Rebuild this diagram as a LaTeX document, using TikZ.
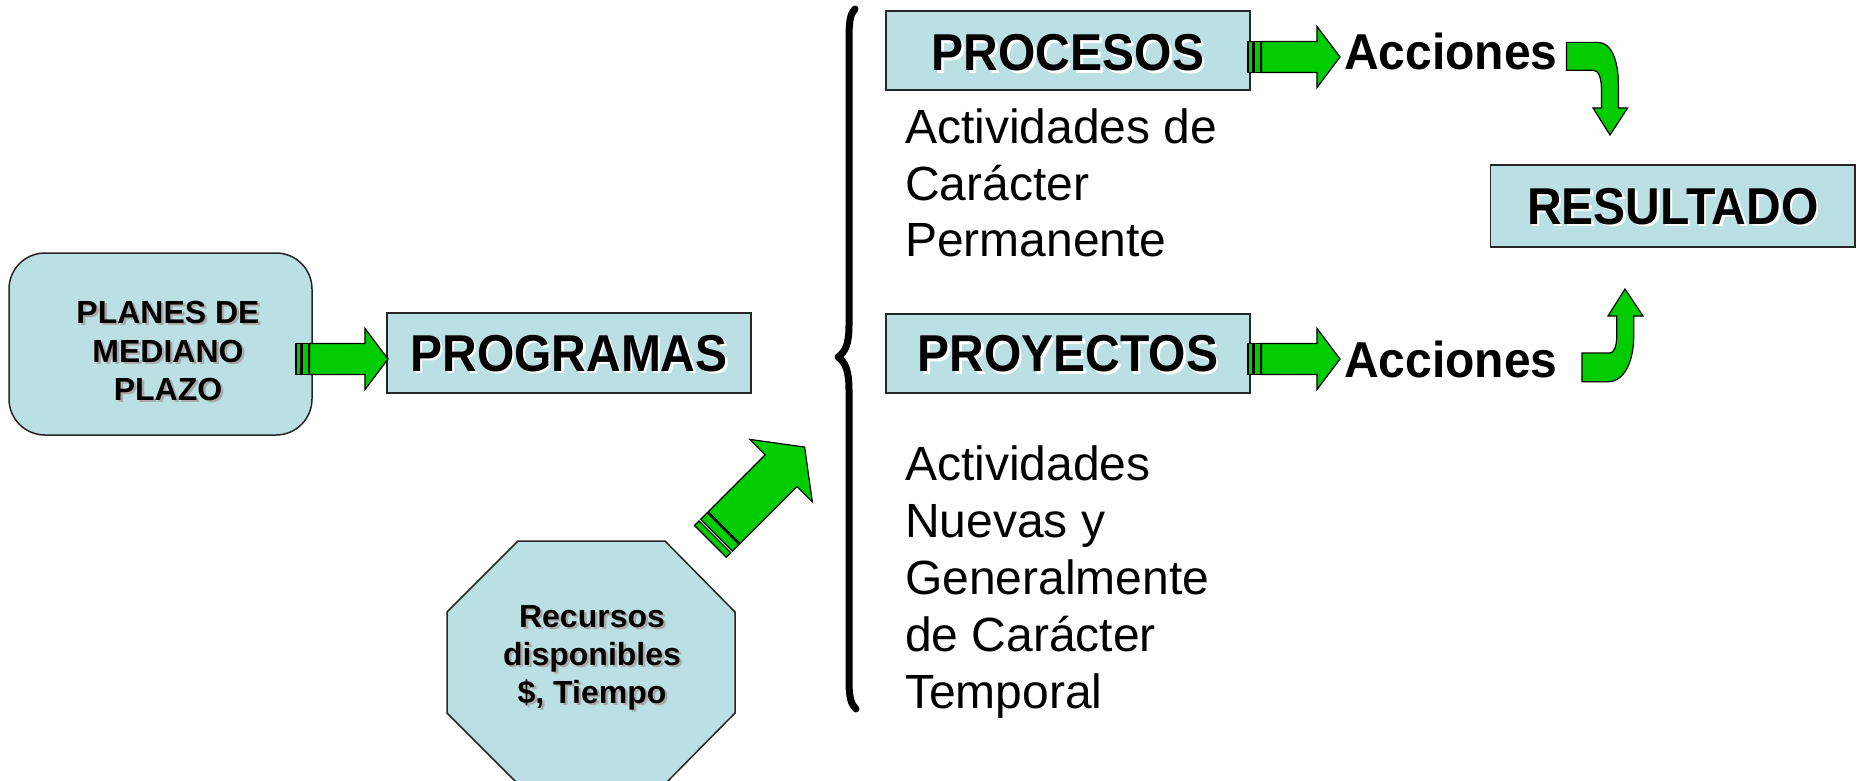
\documentclass[tikz,border=0pt]{standalone}
\usepackage{fontspec}
\setmainfont{Liberation Sans}
\definecolor{boxblue}{RGB}{187,224,227}
\definecolor{agreen}{RGB}{0,204,0}
\definecolor{shgray}{RGB}{170,170,170}
\newcommand\shd[2]{\leavevmode\rlap{\kern2.5pt\raisebox{-2.5pt}{\color{#1}#2}}#2}
\newcommand\tallb[1]{\scalebox{1}[1.08]{\shd{white}{#1}}}
\tikzset{
  bluebox/.style={draw=black!85, line width=1.5pt, fill=boxblue, inner sep=0pt,
    minimum width=364pt, font=\fontsize{48}{57.6}\selectfont\bfseries, anchor=base},
  garrow/.style={fill=agreen, draw=black, line width=1.2pt, line join=miter},
  desc/.style={anchor=base west, inner sep=0pt, font=\fontsize{48}{57.6}\selectfont},
  acc/.style={anchor=base west, inner sep=0pt, font=\fontsize{48}{57.6}\selectfont\bfseries},
  smalltxt/.style={anchor=base, inner sep=0pt, font=\fontsize{32}{38.4}\selectfont\bfseries},
  striparrow/.pic={
    \filldraw[garrow] (0,-15.5) rectangle (4.5,15.5);
    \filldraw[garrow] (6,-15.5) rectangle (12.5,15.5);
    \filldraw[garrow] (13.5,-15.5) -- (69,-15.5) -- (69,-30.5) -- (92,0) -- (69,30.5) -- (69,15.5) -- (13.5,15.5) -- cycle;
  }
}
\begin{document}
\begin{tikzpicture}[x=1pt,y=-1pt]
\useasboundingbox (0,0) rectangle (1862,781);
\clip (0,0) rectangle (1862,781);
\fill[white] (0,0) rectangle (1862,781);

% left rounded box
\node[draw=black!85, line width=1.5pt, fill=boxblue, rounded corners=36pt,
  minimum width=303pt, minimum height=182pt, inner sep=0pt] (planes) at (160.5,344) {};
\node[smalltxt] (pl1) at (168,323) {\shd{shgray}{PLANES DE}};
\node[smalltxt] (pl2) at (168,362) {\shd{shgray}{MEDIANO}};
\node[smalltxt] (pl3) at (168,400) {\shd{shgray}{PLAZO}};

% boxes
\node[bluebox, text height=58pt, text depth=22pt] (programas) at (569,371) {\tallb{PROGRAMAS}};
\node[bluebox, text height=60pt, text depth=19pt] (procesos) at (1068,71) {\tallb{PROCESOS}};
\node[bluebox, text height=57.7pt, text depth=21.3pt] (proyectos) at (1068,371.7) {\tallb{PROYECTOS}};
\node[bluebox, minimum width=364.5pt, text height=59pt, text depth=23pt] (resultado) at (1672.8,224) {\tallb{RESULTADO}};

% striped arrows
\pic (a1) at (296,359) {striparrow};
\pic (a2) at (1248,57) {striparrow};
\pic (a3) at (1248,359) {striparrow};
\pic[rotate=45, scale=1.45] (a4) at (710.3,541.4) {striparrow};

% Acciones
\node[acc] (acc1) at (1344,70) {\scalebox{1}[1.05]{Acciones}};
\node[acc] (acc2) at (1344,377) {\scalebox{1}[1.05]{Acciones}};

% curved arrows
\filldraw[garrow] (1566.5,42.4) -- (1598,42.4) .. controls (1612,42.4) and (1618.4,62) .. (1618.4,84.8)
  -- (1618.4,108) -- (1627.6,108) -- (1610,135) -- (1593,108) -- (1601.5,108) -- (1601.5,92)
  .. controls (1601.5,78) and (1599,70.2) .. (1593,70.2) -- (1566.5,70.2) -- cycle;
\filldraw[garrow] (1582,353) -- (1610,353) .. controls (1614,353) and (1616.7,346) .. (1616.7,336)
  -- (1616.7,316) -- (1608,316) -- (1625,289) -- (1643,316) -- (1633.7,316) -- (1633.7,336)
  .. controls (1633.7,362) and (1624,381.7) .. (1608,381.7) -- (1582,381.7) -- cycle;

% brace
\draw[line width=7pt, line cap=round, line join=round]
  (855,9) .. controls (850,14) and (849,22) .. (849,40) -- (849,325)
  .. controls (849,345) and (845,352) .. (838,357)
  .. controls (845,362) and (849,370) .. (849,390) -- (849,680)
  .. controls (849,698) and (851,704) .. (856,709);

% descriptions
\node[desc] (d1) at (905,143.3) {Actividades de};
\node[desc] (d2) at (905,200) {Carácter};
\node[desc] (d3) at (905,256.7) {Permanente};
\node[desc] (e1) at (905,480) {Actividades};
\node[desc] (e2) at (905,537) {Nuevas y};
\node[desc] (e3) at (905,594) {Generalmente};
\node[desc] (e4) at (905,651) {de Carácter};
\node[desc] (e5) at (905,708) {Temporal};

% octagon
\filldraw[fill=boxblue, draw=black!85, line width=1.5pt] (518,541) -- (665,541) -- (735,612) -- (735,713)
  -- (665,784) -- (518,784) -- (447,713) -- (447,612) -- cycle;
\node[smalltxt] (r1) at (592,627) {\shd{shgray}{Recursos}};
\node[smalltxt] (r2) at (592,665) {\shd{shgray}{disponibles}};
\node[smalltxt] (r3) at (592,703) {\shd{shgray}{\$, Tiempo}};
\end{tikzpicture}
\end{document}
